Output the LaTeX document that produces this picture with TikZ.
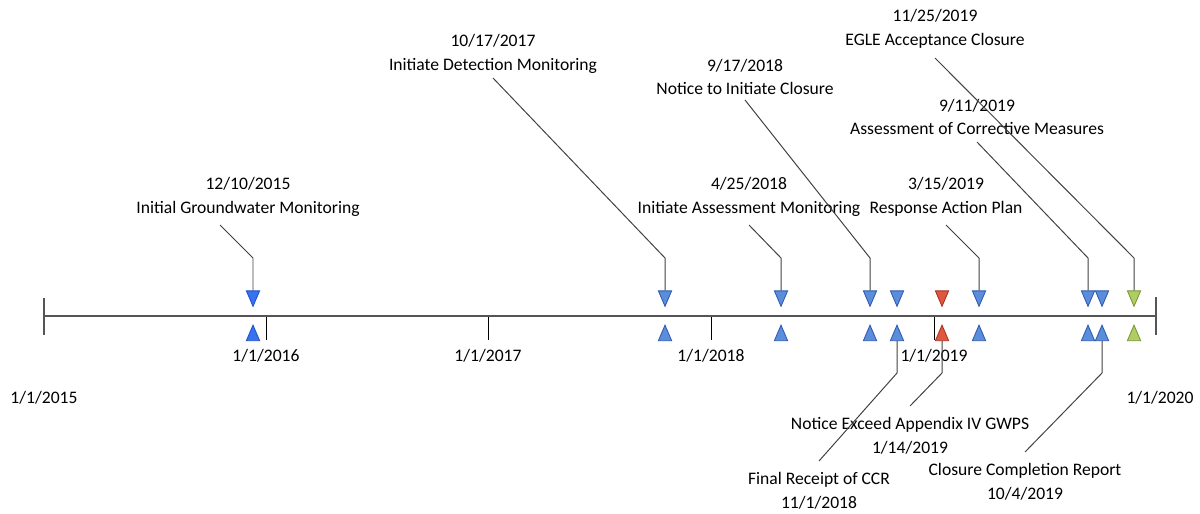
\documentclass[tikz,border=0pt]{standalone}
\usepackage{fontspec}
\setmainfont{Carlito}
\usetikzlibrary{positioning,shapes.geometric}
\definecolor{evblue}{HTML}{5A8DDB}
\definecolor{evblueline}{HTML}{2E5AAE}
\definecolor{startblue}{HTML}{3573F0}
\definecolor{startblueline}{HTML}{1F4FC8}
\definecolor{evred}{HTML}{E0573F}
\definecolor{evredline}{HTML}{A8321F}
\definecolor{evgreen}{HTML}{B0CD62}
\definecolor{evgreenline}{HTML}{7A953A}
\definecolor{axisgray}{HTML}{555555}

\begin{document}
\begin{tikzpicture}[x=0.025cm, y=-0.025cm,
  every node/.style={font=\fontsize{12.5}{17}\selectfont},
  tri/.style={regular polygon, regular polygon sides=3, minimum size=0.45cm,
    inner sep=0pt, xscale=0.85, yscale=1.15, line width=0.6pt},
  downtri/.style={tri, shape border rotate=180},
  uptri/.style={tri},
  bluefill/.style={fill=evblue, draw=evblueline},
  startfill/.style={fill=startblue, draw=startblueline},
  redfill/.style={fill=evred, draw=evredline},
  greenfill/.style={fill=evgreen, draw=evgreenline},
  lbl/.style={align=center, inner sep=0pt},
  lead/.style={draw=black!75, line width=0.7pt}]

  \useasboundingbox (0,0) rectangle (1200,513);

  % Define nodes
  \coordinate (t0) at (44,316);
  \coordinate (t5) at (1156,316);
  \coordinate (bend) at (0,258);
  \coordinate (lowbend) at (0,373);
  \node (y2015) at (44,398) {1/1/2015};
  \node (y2020) at (1160,398) {1/1/2020};
  \foreach \yr/\x in {2016/266,2017/488,2018/711,2019/934} {
    \coordinate (t\yr) at (\x,316);
    \node (y\yr) at (\x,356) {1/1/\yr};
    \draw[black, line width=0.7pt] (t\yr) -- ++(0,24);
  }

  % timeline
  \draw[axisgray, line width=1pt] (t0) -- (t5);
  \draw[axisgray, line width=1pt] (t0) ++(0,-18) -- ++(0,37);
  \draw[axisgray, line width=1pt] (t5) ++(0,-19) -- ++(0,38);

  % events
  \node[downtri, startfill] (gwD) at (253,296) {};
  \node[uptri, startfill] (gwU) at (253,335.5) {};
  \node[lbl] (gw) at (248,197) {12/10/2015\\Initial Groundwater Monitoring};

  \node[downtri, bluefill] (detD) at (665,296) {};
  \node[uptri, bluefill] (detU) at (665,335.5) {};
  \node[lbl] (det) at (493,54) {10/17/2017\\Initiate Detection Monitoring};

  \node[downtri, bluefill] (asmD) at (781,296) {};
  \node[uptri, bluefill] (asmU) at (781,335.5) {};
  \node[lbl] (asm) at (749,197) {4/25/2018\\Initiate Assessment Monitoring};

  \node[downtri, bluefill] (cloD) at (870,296) {};
  \node[uptri, bluefill] (cloU) at (870,335.5) {};
  \node[lbl] (clo) at (745,77) {9/17/2018\\Notice to Initiate Closure};

  \node[downtri, bluefill] (ccrD) at (897,296) {};
  \node[uptri, bluefill] (ccrU) at (897,335.5) {};
  \node[lbl] (ccr) at (819,491) {Final Receipt of CCR\\11/1/2018};

  \node[downtri, redfill] (gwpsD) at (942,296) {};
  \node[uptri, redfill] (gwpsU) at (942,335.5) {};
  \node[lbl] (gwps) at (910,436) {Notice Exceed Appendix IV GWPS\\1/14/2019};

  \node[downtri, bluefill] (rapD) at (979,296) {};
  \node[uptri, bluefill] (rapU) at (979,335.5) {};
  \node[lbl] (rap) at (946,197) {3/15/2019\\Response Action Plan};

  \node[downtri, bluefill] (acmD) at (1088,296) {};
  \node[uptri, bluefill] (acmU) at (1088,335.5) {};
  \node[lbl] (acm) at (977,117) {9/11/2019\\Assessment of Corrective Measures};

  \node[downtri, bluefill] (repD) at (1102,296) {};
  \node[uptri, bluefill] (repU) at (1102,335.5) {};
  \node[lbl] (rep) at (1025,482) {Closure Completion Report\\10/4/2019};

  \node[downtri, greenfill] (egleD) at (1134,296) {};
  \node[uptri, greenfill] (egleU) at (1134,335.5) {};
  \node[lbl] (egle) at (935,29) {11/25/2019\\EGLE Acceptance Closure};

  % Connect the nodes
  \draw[lead] (gw.center) ++(-28,28) -- (gwD.north |- bend) -- (gwD.north);
  \draw[lead] (det.center) ++(0,24) -- (detD.north |- bend) -- (detD.north);
  \draw[lead] (asm.center) ++(0,28) -- (asmD.north |- bend) -- (asmD.north);
  \draw[lead] (clo.center) ++(0,23) -- (cloD.north |- bend) -- (cloD.north);
  \draw[lead] (rap.center) ++(0,28) -- (rapD.north |- bend) -- (rapD.north);
  \draw[lead] (acm.center) ++(0,25) -- (acmD.north |- bend) -- (acmD.north);
  \draw[lead] (egle.center) ++(0,29) -- (egleD.north |- bend) -- (egleD.north);
  \draw[lead] (ccr.center) ++(0,-30) -- (ccrU.south |- lowbend) -- (ccrU.south);
  \draw[lead] (gwps.center) ++(0,-30) -- (gwpsU.south |- lowbend) -- (gwpsU.south);
  \draw[lead] (rep.center) ++(0,-30) -- (repU.south |- lowbend) -- (repU.south);

\end{tikzpicture}
\end{document}
